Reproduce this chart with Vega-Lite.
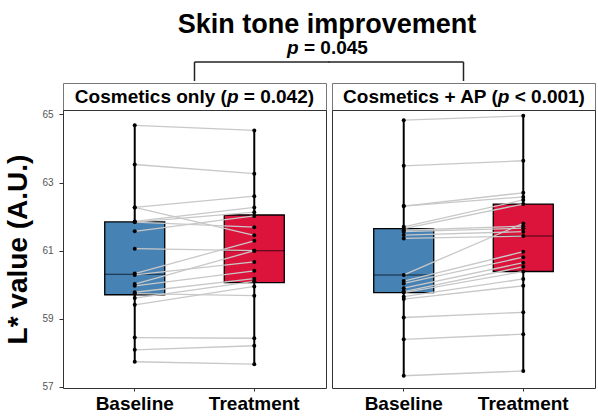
{
  "$schema": "https://vega.github.io/schema/vega-lite/v6.json",
  "background": "white",
  "padding": {"top": 11, "left": 4, "right": 5, "bottom": 5},
  "config": {"font": "Liberation Sans", "view": {"stroke": null}},
  "title": {"text": "Skin tone improvement", "fontSize": 27, "fontWeight": "bold", "color": "black", "anchor": "middle", "dx": 27, "offset": -1},
  "datasets": {
    "d": [
      {"group": "Cosmetics only", "subject": 1, "time": "Baseline", "value": 64.68}, {"group": "Cosmetics only", "subject": 1, "time": "Treatment", "value": 64.53},
      {"group": "Cosmetics only", "subject": 2, "time": "Baseline", "value": 63.53}, {"group": "Cosmetics only", "subject": 2, "time": "Treatment", "value": 63.26},
      {"group": "Cosmetics only", "subject": 3, "time": "Baseline", "value": 62.27}, {"group": "Cosmetics only", "subject": 3, "time": "Treatment", "value": 62.60},
      {"group": "Cosmetics only", "subject": 4, "time": "Baseline", "value": 62.27}, {"group": "Cosmetics only", "subject": 4, "time": "Treatment", "value": 61.45},
      {"group": "Cosmetics only", "subject": 5, "time": "Baseline", "value": 61.86}, {"group": "Cosmetics only", "subject": 5, "time": "Treatment", "value": 62.27},
      {"group": "Cosmetics only", "subject": 6, "time": "Baseline", "value": 61.84}, {"group": "Cosmetics only", "subject": 6, "time": "Treatment", "value": 62.13},
      {"group": "Cosmetics only", "subject": 7, "time": "Baseline", "value": 61.84}, {"group": "Cosmetics only", "subject": 7, "time": "Treatment", "value": 61.69},
      {"group": "Cosmetics only", "subject": 8, "time": "Baseline", "value": 61.57}, {"group": "Cosmetics only", "subject": 8, "time": "Treatment", "value": 62.02},
      {"group": "Cosmetics only", "subject": 9, "time": "Baseline", "value": 61.06}, {"group": "Cosmetics only", "subject": 9, "time": "Treatment", "value": 61.00},
      {"group": "Cosmetics only", "subject": 10, "time": "Baseline", "value": 60.33}, {"group": "Cosmetics only", "subject": 10, "time": "Treatment", "value": 61.29},
      {"group": "Cosmetics only", "subject": 11, "time": "Baseline", "value": 60.29}, {"group": "Cosmetics only", "subject": 11, "time": "Treatment", "value": 60.67},
      {"group": "Cosmetics only", "subject": 12, "time": "Baseline", "value": 60.02}, {"group": "Cosmetics only", "subject": 12, "time": "Treatment", "value": 61.00},
      {"group": "Cosmetics only", "subject": 13, "time": "Baseline", "value": 59.97}, {"group": "Cosmetics only", "subject": 13, "time": "Treatment", "value": 60.41},
      {"group": "Cosmetics only", "subject": 14, "time": "Baseline", "value": 59.78}, {"group": "Cosmetics only", "subject": 14, "time": "Treatment", "value": 60.18},
      {"group": "Cosmetics only", "subject": 15, "time": "Baseline", "value": 59.74}, {"group": "Cosmetics only", "subject": 15, "time": "Treatment", "value": 59.68},
      {"group": "Cosmetics only", "subject": 16, "time": "Baseline", "value": 59.61}, {"group": "Cosmetics only", "subject": 16, "time": "Treatment", "value": 60.10},
      {"group": "Cosmetics only", "subject": 17, "time": "Baseline", "value": 59.41}, {"group": "Cosmetics only", "subject": 17, "time": "Treatment", "value": 59.95},
      {"group": "Cosmetics only", "subject": 18, "time": "Baseline", "value": 58.45}, {"group": "Cosmetics only", "subject": 18, "time": "Treatment", "value": 58.43},
      {"group": "Cosmetics only", "subject": 19, "time": "Baseline", "value": 58.09}, {"group": "Cosmetics only", "subject": 19, "time": "Treatment", "value": 58.21},
      {"group": "Cosmetics only", "subject": 20, "time": "Baseline", "value": 57.74}, {"group": "Cosmetics only", "subject": 20, "time": "Treatment", "value": 57.67},
      {"group": "Cosmetics + AP", "subject": 1, "time": "Baseline", "value": 64.83}, {"group": "Cosmetics + AP", "subject": 1, "time": "Treatment", "value": 64.96},
      {"group": "Cosmetics + AP", "subject": 2, "time": "Baseline", "value": 63.49}, {"group": "Cosmetics + AP", "subject": 2, "time": "Treatment", "value": 63.64},
      {"group": "Cosmetics + AP", "subject": 3, "time": "Baseline", "value": 62.31}, {"group": "Cosmetics + AP", "subject": 3, "time": "Treatment", "value": 62.70},
      {"group": "Cosmetics + AP", "subject": 4, "time": "Baseline", "value": 62.31}, {"group": "Cosmetics + AP", "subject": 4, "time": "Treatment", "value": 62.58},
      {"group": "Cosmetics + AP", "subject": 5, "time": "Baseline", "value": 61.70}, {"group": "Cosmetics + AP", "subject": 5, "time": "Treatment", "value": 62.49},
      {"group": "Cosmetics + AP", "subject": 6, "time": "Baseline", "value": 61.65}, {"group": "Cosmetics + AP", "subject": 6, "time": "Treatment", "value": 62.37},
      {"group": "Cosmetics + AP", "subject": 7, "time": "Baseline", "value": 61.60}, {"group": "Cosmetics + AP", "subject": 7, "time": "Treatment", "value": 61.72},
      {"group": "Cosmetics + AP", "subject": 8, "time": "Baseline", "value": 61.56}, {"group": "Cosmetics + AP", "subject": 8, "time": "Treatment", "value": 61.66},
      {"group": "Cosmetics + AP", "subject": 9, "time": "Baseline", "value": 61.46}, {"group": "Cosmetics + AP", "subject": 9, "time": "Treatment", "value": 61.56},
      {"group": "Cosmetics + AP", "subject": 10, "time": "Baseline", "value": 61.36}, {"group": "Cosmetics + AP", "subject": 10, "time": "Treatment", "value": 61.43},
      {"group": "Cosmetics + AP", "subject": 11, "time": "Baseline", "value": 60.29}, {"group": "Cosmetics + AP", "subject": 11, "time": "Treatment", "value": 61.80},
      {"group": "Cosmetics + AP", "subject": 12, "time": "Baseline", "value": 60.11}, {"group": "Cosmetics + AP", "subject": 12, "time": "Treatment", "value": 60.97},
      {"group": "Cosmetics + AP", "subject": 13, "time": "Baseline", "value": 60.04}, {"group": "Cosmetics + AP", "subject": 13, "time": "Treatment", "value": 60.81},
      {"group": "Cosmetics + AP", "subject": 14, "time": "Baseline", "value": 59.90}, {"group": "Cosmetics + AP", "subject": 14, "time": "Treatment", "value": 60.65},
      {"group": "Cosmetics + AP", "subject": 15, "time": "Baseline", "value": 59.80}, {"group": "Cosmetics + AP", "subject": 15, "time": "Treatment", "value": 60.53},
      {"group": "Cosmetics + AP", "subject": 16, "time": "Baseline", "value": 59.77}, {"group": "Cosmetics + AP", "subject": 16, "time": "Treatment", "value": 60.39},
      {"group": "Cosmetics + AP", "subject": 17, "time": "Baseline", "value": 59.65}, {"group": "Cosmetics + AP", "subject": 17, "time": "Treatment", "value": 60.17},
      {"group": "Cosmetics + AP", "subject": 18, "time": "Baseline", "value": 59.58}, {"group": "Cosmetics + AP", "subject": 18, "time": "Treatment", "value": 59.97},
      {"group": "Cosmetics + AP", "subject": 19, "time": "Baseline", "value": 59.04}, {"group": "Cosmetics + AP", "subject": 19, "time": "Treatment", "value": 59.19},
      {"group": "Cosmetics + AP", "subject": 20, "time": "Baseline", "value": 58.40}, {"group": "Cosmetics + AP", "subject": 20, "time": "Treatment", "value": 58.55},
      {"group": "Cosmetics + AP", "subject": 21, "time": "Baseline", "value": 57.33}, {"group": "Cosmetics + AP", "subject": 21, "time": "Treatment", "value": 57.47}
    ]
  },
  "columns": 2,
  "bounds": "flush",
  "spacing": {"row": 0, "column": 6},
  "concat": [
    {
      "width": 263, "height": 45,
      "layer": [
        {
          "data": {"values": [{"x": 0.5, "x2": 0.5, "y": 0.044, "y2": 0.467}, {"x": 0.5, "x2": 1.0133, "y": 0.467, "y2": 0.467}]},
          "mark": {"type": "rule", "color": "#222", "strokeWidth": 1.5},
          "encoding": {
            "x": {"field": "x", "type": "quantitative", "scale": {"domain": [0, 1]}, "axis": null},
            "x2": {"field": "x2"},
            "y": {"field": "y", "type": "quantitative", "scale": {"domain": [0, 1]}, "axis": null},
            "y2": {"field": "y2"}
          }
        },
        {
          "data": {"values": [{"x": 1, "y": 0.644, "p": "p", "rest": "= 0.045"}]},
          "mark": {"type": "text", "align": "center", "baseline": "alphabetic", "dx": -33.1, "fontSize": 19, "fontWeight": "bold", "fontStyle": "italic", "color": "black"},
          "encoding": {
            "x": {"field": "x", "type": "quantitative"},
            "y": {"field": "y", "type": "quantitative"},
            "text": {"field": "p"}
          }
        },
        {
          "data": {"values": [{"x": 1, "y": 0.644, "p": "p", "rest": "= 0.045"}]},
          "mark": {"type": "text", "align": "left", "baseline": "alphabetic", "dx": -22.0, "fontSize": 19, "fontWeight": "bold", "color": "black"},
          "encoding": {
            "x": {"field": "x", "type": "quantitative"},
            "y": {"field": "y", "type": "quantitative"},
            "text": {"field": "rest"}
          }
        }
      ]
    },
    {
      "width": 263, "height": 45,
      "data": {"values": [{"x": 0.5, "x2": 0.5, "y": 0.044, "y2": 0.467}, {"x": -0.0133, "x2": 0.5, "y": 0.467, "y2": 0.467}]},
      "mark": {"type": "rule", "color": "#222", "strokeWidth": 1.5},
      "encoding": {
        "x": {"field": "x", "type": "quantitative", "scale": {"domain": [0, 1]}, "axis": null},
        "x2": {"field": "x2"},
        "y": {"field": "y", "type": "quantitative", "scale": {"domain": [0, 1]}, "axis": null},
        "y2": {"field": "y2"}
      }
    },
    {
      "width": 263, "height": 27,
      "view": {"stroke": "#777", "strokeWidth": 1, "fill": "white"},
      "data": {"values": [{"a": "Cosmetics only (", "p": "p", "c": "= 0.042)"}]},
      "layer": [
        {"mark": {"type": "text", "align": "right", "dx": 32.4, "fontSize": 19, "fontWeight": "bold", "color": "black"}, "encoding": {"text": {"field": "a"}}},
        {"mark": {"type": "text", "align": "center", "dx": 38.2, "fontSize": 19, "fontWeight": "bold", "fontStyle": "italic", "color": "black"}, "encoding": {"text": {"field": "p"}}},
        {"mark": {"type": "text", "align": "left", "dx": 49.3, "fontSize": 19, "fontWeight": "bold", "color": "black"}, "encoding": {"text": {"field": "c"}}}
      ]
    },
    {
      "width": 263, "height": 27,
      "view": {"stroke": "#777", "strokeWidth": 1, "fill": "white"},
      "data": {"values": [{"a": "Cosmetics + AP (", "p": "p", "c": "< 0.001)"}]},
      "layer": [
        {"mark": {"type": "text", "align": "right", "dx": 34.3, "fontSize": 19, "fontWeight": "bold", "color": "black"}, "encoding": {"text": {"field": "a"}}},
        {"mark": {"type": "text", "align": "center", "dx": 40.1, "fontSize": 19, "fontWeight": "bold", "fontStyle": "italic", "color": "black"}, "encoding": {"text": {"field": "p"}}},
        {"mark": {"type": "text", "align": "left", "dx": 51.2, "fontSize": 19, "fontWeight": "bold", "color": "black"}, "encoding": {"text": {"field": "c"}}}
      ]
    },
    {
      "width": 263, "height": 278,
      "view": {"stroke": "#333", "strokeWidth": 1},
      "data": {"name": "d"},
      "transform": [{"filter": "datum.group === 'Cosmetics only'"}],
      "encoding": {
        "x": {"field": "time", "type": "nominal", "sort": ["Baseline", "Treatment"], "scale": {"paddingInner": 0, "paddingOuter": 0.1},
              "axis": {"title": null, "labelFontSize": 19, "labelFontWeight": "bold", "labelColor": "black", "labelAngle": 0, "tickSize": 3, "tickColor": "#333", "domain": false, "labelPadding": 3}},
        "y": {"field": "value", "type": "quantitative", "scale": {"domain": [56.97, 65.13], "nice": false, "zero": false},
              "axis": {"values": [57, 59, 61, 63, 65], "title": "L* value (A.U.)", "titleFontSize": 28, "titleFontWeight": "bold", "titleColor": "black", "titlePadding": 9, "labelFontSize": 10, "labelColor": "#555", "labelPadding": 6, "tickSize": 4, "tickColor": "#333", "domain": false, "grid": false}}
      },
      "layer": [
        {
          "mark": {"type": "boxplot", "extent": "min-max", "size": 60, "ticks": false, "outliers": false,
                   "box": {"stroke": "black", "strokeWidth": 1.3},
                   "median": {"color": "black", "strokeWidth": 2.2},
                   "rule": {"color": "black", "strokeWidth": 2}},
          "encoding": {"color": {"field": "time", "type": "nominal", "scale": {"domain": ["Baseline", "Treatment"], "range": ["#4682B4", "#DC143C"]}, "legend": null}}
        },
        {"mark": {"type": "line", "color": "#c8c8c8", "strokeWidth": 1.3}, "encoding": {"detail": {"field": "subject"}}},
        {"mark": {"type": "point", "filled": true, "color": "black", "size": 16, "opacity": 1}}
      ]
    },
    {
      "width": 263, "height": 278,
      "view": {"stroke": "#333", "strokeWidth": 1},
      "data": {"name": "d"},
      "transform": [{"filter": "datum.group === 'Cosmetics + AP'"}],
      "encoding": {
        "x": {"field": "time", "type": "nominal", "sort": ["Baseline", "Treatment"], "scale": {"paddingInner": 0, "paddingOuter": 0.1},
              "axis": {"title": null, "labelFontSize": 19, "labelFontWeight": "bold", "labelColor": "black", "labelAngle": 0, "tickSize": 3, "tickColor": "#333", "domain": false, "labelPadding": 3}},
        "y": {"field": "value", "type": "quantitative", "scale": {"domain": [56.97, 65.13], "nice": false, "zero": false}, "axis": null}
      },
      "layer": [
        {
          "mark": {"type": "boxplot", "extent": "min-max", "size": 60, "ticks": false, "outliers": false,
                   "box": {"stroke": "black", "strokeWidth": 1.3},
                   "median": {"color": "black", "strokeWidth": 2.2},
                   "rule": {"color": "black", "strokeWidth": 2}},
          "encoding": {"color": {"field": "time", "type": "nominal", "scale": {"domain": ["Baseline", "Treatment"], "range": ["#4682B4", "#DC143C"]}, "legend": null}}
        },
        {"mark": {"type": "line", "color": "#c8c8c8", "strokeWidth": 1.3}, "encoding": {"detail": {"field": "subject"}}},
        {"mark": {"type": "point", "filled": true, "color": "black", "size": 16, "opacity": 1}}
      ]
    }
  ]
}
